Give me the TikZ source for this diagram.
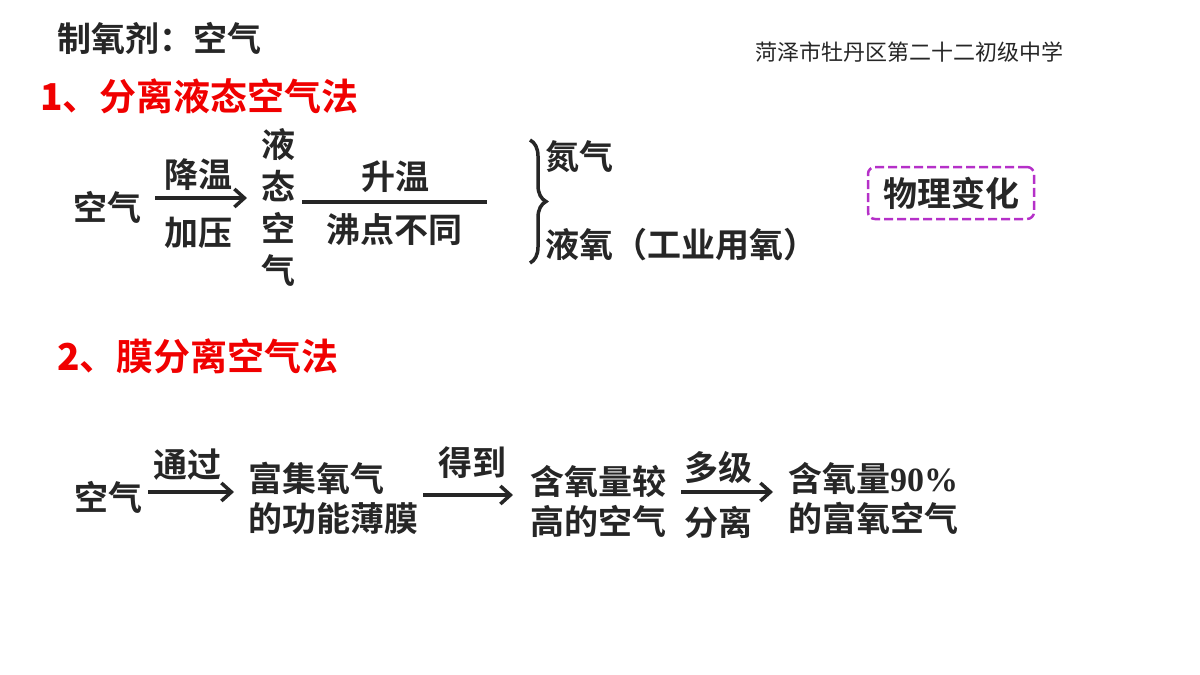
\documentclass[tikz,border=0pt]{standalone}
\usepackage{fontspec}
\setmainfont{Liberation Serif}
\newfontfamily\cjkb{Noto Sans CJK SC Bold}
\newfontfamily\cjk{Noto Sans CJK SC}
\usetikzlibrary{arrows.meta,decorations.pathreplacing}
\definecolor{tx}{HTML}{262626}
\definecolor{rd}{HTML}{F00000}
\definecolor{mg}{HTML}{B530C8}
\tikzset{
 t/.style={font=\fontsize{34}{40}\selectfont\cjkb,text=tx,inner sep=0pt},
 hd/.style={font=\fontsize{37}{40}\selectfont\cjkb,text=rd,inner sep=0pt,anchor=west},
 arr/.style={draw=tx,line width=3.5pt,-{Straight Barb[length=10pt,width=18pt]}},
 ln/.style={draw=tx,line width=3.5pt}
}
\begin{document}
\begin{tikzpicture}[x=1pt,y=-1pt]
\useasboundingbox (0,0) rectangle (1200,675);
\node[t,anchor=west] (title) at (57,38) {制氧剂：空气};
\node[font=\fontsize{22}{26}\selectfont\cjk,text=tx,anchor=west,inner sep=0pt] (school) at (755,52) {菏泽市牡丹区第二十二初级中学};
\node[hd] (h1) at (40,96) {\textbf{1}、分离液态空气法};
% row 1
\node[t] (air1) at (107,207) {空气};
\coordinate (a1s) at (155,198); \coordinate (a1e) at (247,198);
\draw[arr] (a1s) -- (a1e);
\node[t] (jw) at (198,175) {降温};
\node[t] (jy) at (198,233) {加压};
\node[t,align=center,font=\fontsize{34}{42}\selectfont\cjkb] (ytkq) at (278,207) {液\\态\\空\\气};
\coordinate (l1s) at (302,202); \coordinate (l1e) at (487,202);
\draw[ln] (l1s) -- (l1e);
\node[t] (sw) at (395,177) {升温};
\node[t] (fd) at (394,230) {沸点不同};
\draw[ln,decorate,decoration={brace,amplitude=16pt}] (530,140) coordinate (b1) -- (530,263) coordinate (b2);
\node[t,anchor=west] (dq) at (545,157) {氮气};
\node[t,anchor=west] (yy) at (545,245) {液氧（工业用氧）};
\node[t,draw=mg,dash pattern=on 9pt off 4pt,line width=2.5pt,rounded corners=7pt,minimum width=166pt,minimum height=52pt] (wl) at (951,193) {物理变化};
% row 2
\node[hd] (h2) at (57,356) {\textbf{2}、膜分离空气法};
\node[t] (air2) at (108,497) {空气};
\coordinate (a2s) at (148,492); \coordinate (a2e) at (234,492);
\draw[arr] (a2s) -- (a2e);
\node[t] (tg) at (187,465) {通过};
\node[t,align=left,font=\fontsize{34}{40}\selectfont\cjkb] (mo) at (333,498) {富集氧气\\的功能薄膜};
\coordinate (a3s) at (423,495); \coordinate (a3e) at (513,495);
\draw[arr] (a3s) -- (a3e);
\node[t] (dd) at (472,463) {得到};
\node[t,align=left,font=\fontsize{34}{40}\selectfont\cjkb] (hy) at (598,501) {含氧量较\\高的空气};
\coordinate (a4s) at (681,492); \coordinate (a4e) at (773,492);
\draw[arr] (a4s) -- (a4e);
\node[t] (dj) at (718,468) {多级};
\node[t] (fl) at (718,522) {分离};
\node[t,align=left,font=\fontsize{34}{40}\selectfont\cjkb] (fy) at (873,498) {含氧量\textbf{\fontspec{Liberation Serif}90\%}\\的富氧空气};
\end{tikzpicture}
\end{document}
